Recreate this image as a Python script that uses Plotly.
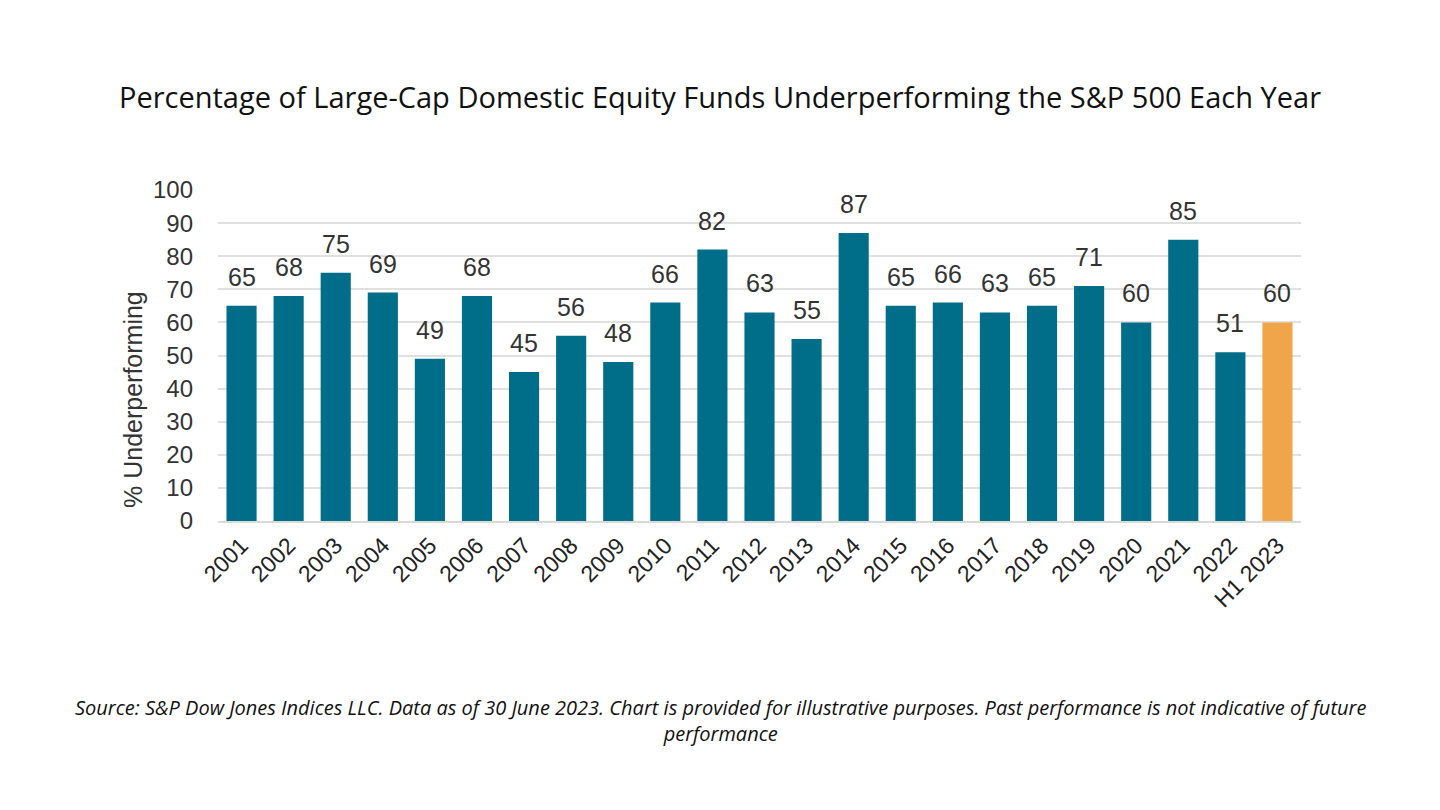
import plotly.graph_objects as go

categories = ["2001", "2002", "2003", "2004", "2005", "2006", "2007", "2008", "2009", "2010",
              "2011", "2012", "2013", "2014", "2015", "2016", "2017", "2018", "2019", "2020",
              "2021", "2022", "H1 2023"]
values = [65, 68, 75, 69, 49, 68, 45, 56, 48, 66, 82, 63, 55, 87, 65, 66, 63, 65, 71, 60, 85, 51, 60]
y_ticks = [0, 10, 20, 30, 40, 50, 60, 70, 80, 90, 100]

teal = "#006E89"
orange = "#F0A54A"
colors = [teal] * (len(categories) - 1) + [orange]
arial = "Liberation Sans, Arial, sans-serif"

fig = go.Figure()
fig.add_trace(go.Bar(
    x=categories, y=values,
    marker=dict(color=colors, line=dict(width=0)),
))

L, R, T, B = 218, 139, 190, 289
pw = 1440 - L - R
ph = 810 - T - B

annotations = []
for i, v in enumerate(values):
    annotations.append(dict(
        x=i, y=v, xref="x", yref="y", text=str(v), showarrow=False,
        xanchor="center", yanchor="middle", yshift=29,
        font=dict(family=arial, size=25, color="#333333"),
    ))
annotations.append(dict(
    text="% Underperforming", textangle=-90,
    x=(133 - L) / pw, y=(810 - B - 400) / ph, xanchor="center", yanchor="middle",
    xref="paper", yref="paper", showarrow=False,
    font=dict(family=arial, size=25, color="#333333"),
))
annotations.append(dict(
    text="Source: S&P Dow Jones Indices LLC. Data as of 30 June 2023. Chart is provided for illustrative purposes. Past performance is not indicative of future<br>performance",
    x=(720 - L) / pw, y=(810 - B - 720) / ph, xanchor="center", yanchor="middle",
    xref="paper", yref="paper", showarrow=False,
    font=dict(family="Open Sans, sans-serif", size=20, color="#111111", style="italic"),
))

fig.update_layout(
    width=1440, height=810,
    paper_bgcolor="white", plot_bgcolor="white",
    margin=dict(l=L, r=R, t=T, b=B),
    bargap=0.36,
    showlegend=False,
    title=dict(
        text="Percentage of Large-Cap Domestic Equity Funds Underperforming the S&P 500 Each Year",
        x=0.5, xanchor="center", y=1 - 98 / 810, yanchor="middle",
        font=dict(family="Open Sans, sans-serif", size=29, color="#111111"),
    ),
    xaxis=dict(
        type="category",
        range=[-0.5, len(categories) - 0.5],
        tickangle=-45,
        tickfont=dict(family=arial, size=23, color="#222222"),
        showgrid=False, showline=True, linecolor="#d9d9d9", linewidth=2,
        ticks="",
    ),
    yaxis=dict(
        range=[0, 100], tickvals=y_ticks,
        tickfont=dict(family=arial, size=24, color="#333333"),
        showgrid=True, gridcolor="#e0e0e0", gridwidth=2,
        zeroline=False, showline=False, ticks="",
        ticklabelstandoff=24,
    ),
    annotations=annotations,
)

fig.write_html("out.html")
